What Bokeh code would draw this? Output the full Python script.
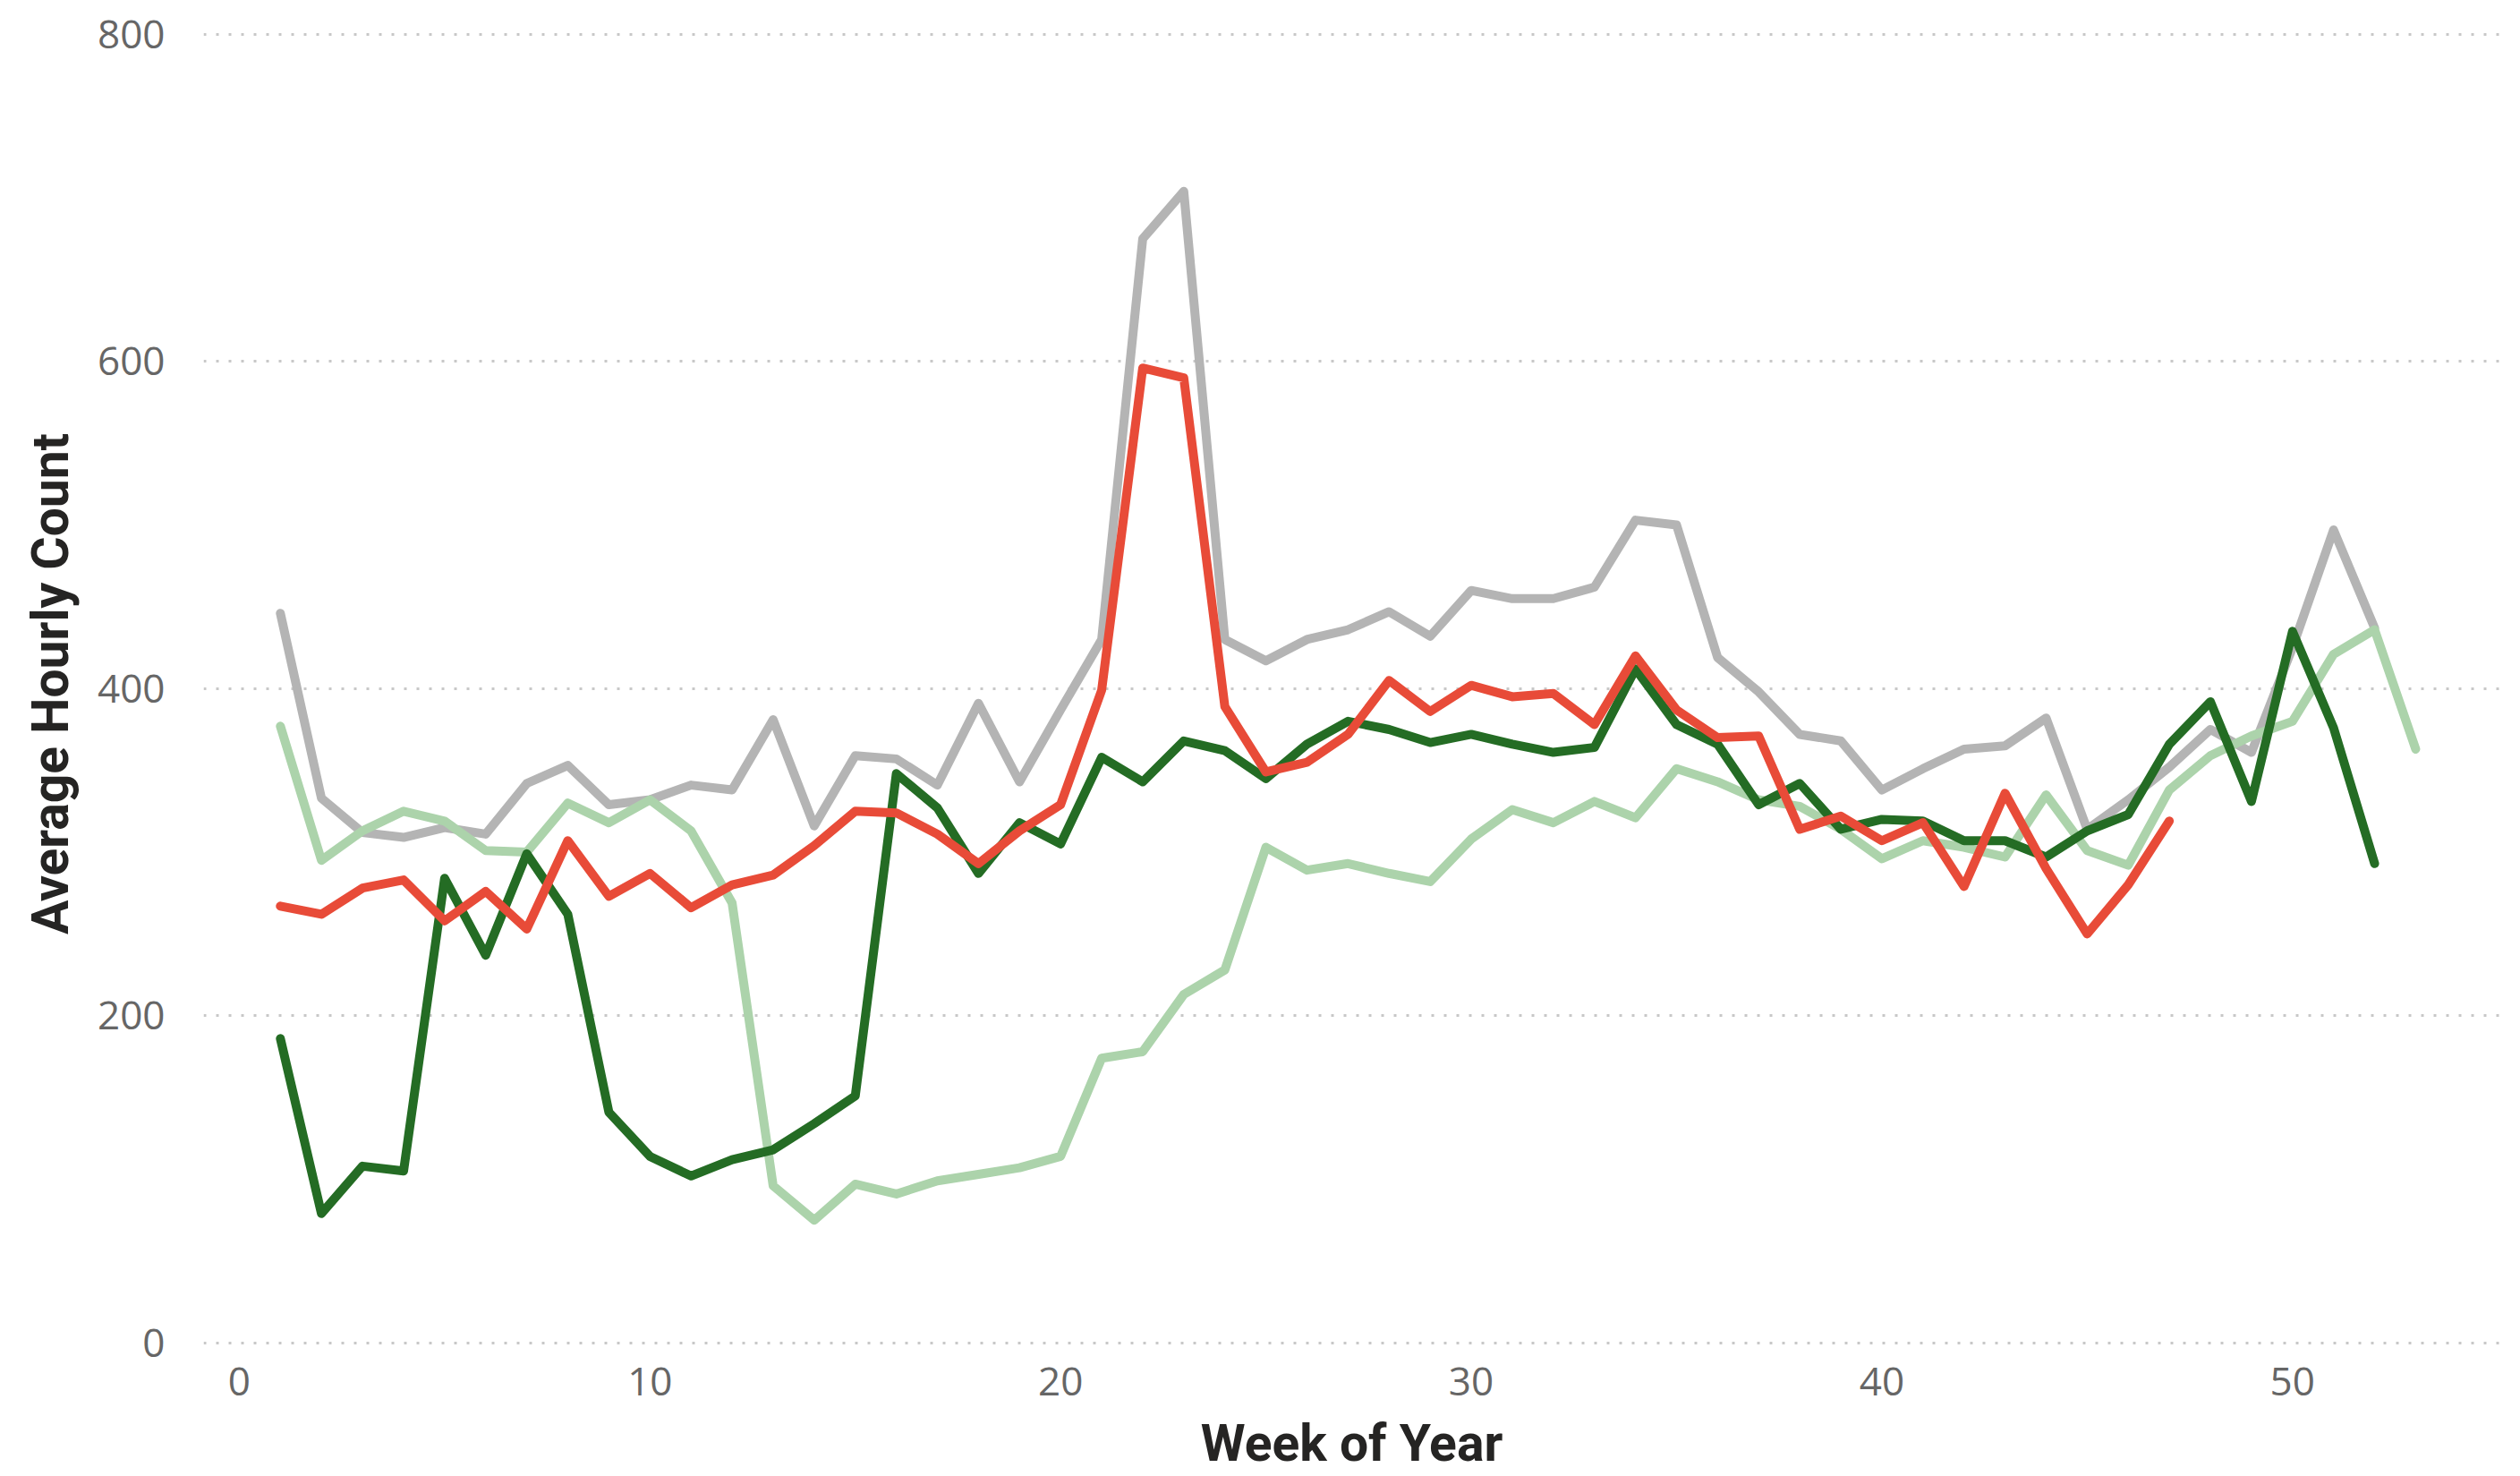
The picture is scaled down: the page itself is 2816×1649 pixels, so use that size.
from bokeh.plotting import figure
from bokeh.models import Range1d, FixedTicker
from bokeh.embed import file_html
from bokeh.resources import INLINE

weeks_gray = list(range(1, 53))
gray_vals = [446, 333, 312, 309, 315, 311, 342, 353, 329, 332, 341, 338, 381, 316, 359, 357,
             341, 391, 343, 387, 430, 675, 704, 430, 417, 430, 436, 447, 432, 460, 455, 455,
             462, 503, 500, 419, 398, 372, 368, 338, 351, 363, 365, 382, 314, 332, 352, 375,
             361, 425, 497, 437]

weeks_light = list(range(1, 54))
light_vals = [377, 295, 313, 325, 319, 301, 300, 330, 318, 332, 313, 269, 96, 75, 97, 91,
              99, 103, 107, 114, 174, 178, 213, 228, 303, 289, 293, 287, 282, 308, 326, 318,
              331, 321, 351, 343, 332, 328, 314, 296, 307, 303, 297, 335, 301, 292, 338, 359,
              371, 380, 421, 436, 363]

weeks_dark = list(range(1, 53))
dark_vals = [186, 79, 108, 105, 284, 237, 299, 262, 141, 114, 102, 112, 118, 134, 151, 348,
             327, 287, 318, 305, 358, 343, 368, 362, 345, 366, 380, 375, 367, 372, 366, 361,
             364, 412, 378, 366, 329, 342, 314, 320, 319, 307, 307, 297, 313, 323, 366, 392,
             331, 435, 376, 293]

weeks_red = list(range(1, 48))
red_vals = [267, 262, 278, 283, 258, 276, 253, 307, 273, 287, 266, 280, 286, 304, 325, 324,
            311, 293, 313, 329, 399, 596, 590, 389, 349, 355, 372, 405, 386, 402, 395, 397,
            378, 420, 387, 370, 371, 314, 322, 307, 318, 279, 336, 290, 250, 280, 319]

x_ticks = [0, 10, 20, 30, 40, 50]
y_ticks = [0, 200, 400, 600, 800]

W, H = 2810, 1649
p = figure(width=W, height=H, output_backend="svg", toolbar_location=None,
           x_range=Range1d(-0.87, 55.05), y_range=Range1d(-4.0, 809.8),
           min_border_left=227, min_border_right=17, min_border_top=20, min_border_bottom=142)
p.outline_line_color = None
p.background_fill_color = "white"
p.border_fill_color = "white"

series = [
    (weeks_gray, gray_vals, "#b4b4b4"),
    (weeks_light, light_vals, "#acd3ab"),
    (weeks_dark, dark_vals, "#246c24"),
    (weeks_red, red_vals, "#e84b38"),
]
for xs, ys, c in series:
    p.line(xs, ys, line_color=c, line_width=10, line_join="round", line_cap="round")

p.xaxis.ticker = FixedTicker(ticks=x_ticks)
p.yaxis.ticker = FixedTicker(ticks=y_ticks)
p.xgrid.grid_line_color = None
p.ygrid.grid_line_color = "#c8c8c8"
p.ygrid.grid_line_width = 3
p.ygrid.grid_line_dash = "3 11"

for ax in (p.xaxis[0], p.yaxis[0]):
    ax.axis_line_color = None
    ax.major_tick_line_color = None
    ax.minor_tick_line_color = None
    ax.major_label_text_font = "Open Sans"
    ax.major_label_text_font_size = "44px"
    ax.major_label_text_color = "#666666"
    ax.axis_label_text_font = "Roboto"
    ax.axis_label_text_font_style = "bold"
    ax.axis_label_text_font_size = "57px"
    ax.axis_label_text_color = "#252423"

p.xaxis.axis_label = "Week of Year"
p.yaxis.axis_label = "Average Hourly Count"
p.yaxis.major_label_standoff = 37
p.xaxis.major_label_standoff = 14
p.yaxis.axis_label_standoff = 16
p.xaxis.axis_label_standoff = 17

open("out.html", "w").write(file_html(p, INLINE))
